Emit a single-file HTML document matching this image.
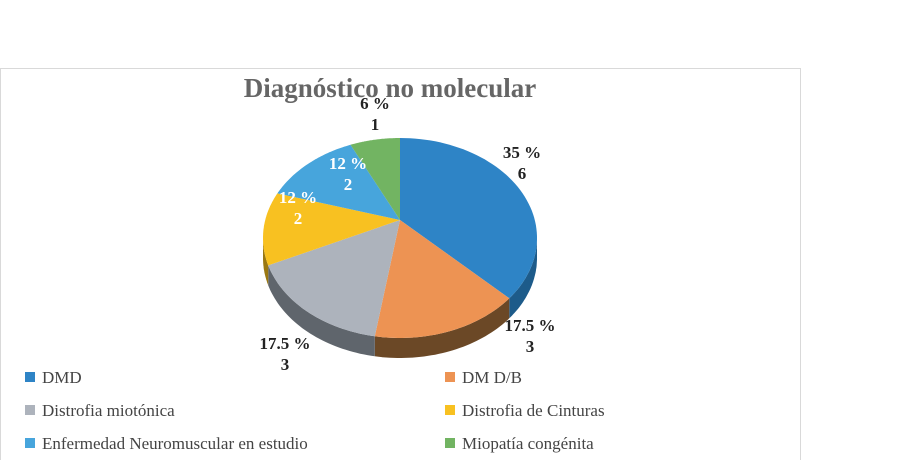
<!DOCTYPE html>
<html><head><meta charset="utf-8"><style>
body{margin:0;background:#fff;width:900px;height:460px;overflow:hidden;font-family:"Liberation Serif",serif}
</style></head><body>
<svg width="900" height="460">
<rect x="0.5" y="68.5" width="800" height="400" fill="#fff" stroke="#d9d9d9"/>
<text x="390" y="97" text-anchor="middle" font-size="27" font-weight="bold" fill="#666">Diagnóstico no molecular</text>
<g id="pie"></g>
<g id="labels" font-size="17" font-weight="bold" text-anchor="middle"></g>
<g id="legend" font-size="17" fill="#444"></g>
</svg>
<script>
const categories=["DMD","DM D/B","Distrofia miotónica","Distrofia de Cinturas","Enfermedad Neuromuscular en estudio","Miopatía congénita"];
const counts=[6,3,3,2,2,1];
const pctLabels=["35 %","17.5 %","17.5 %","12 %","12 %","6 %"];
const colors=["#2e84c6","#ed9353","#adb3bc","#f8c121","#47a5dc","#72b462"];
const sideColors=["#1d5b8a","#6b4826","#5f656c","#9a7812","#2c6f96","#4d7d41"];
const NS="http://www.w3.org/2000/svg";
const cx=400,cy=238,rx=137,ry=100,ax=400,ay=220,depth=20;
const total=counts.reduce((a,b)=>a+b,0);
function pt(t,dy){const r=t*Math.PI/180;return [cx+rx*Math.sin(r),cy-ry*Math.cos(r)+(dy||0)];}
const pie=document.getElementById('pie');
let a=0;const spans=[];
counts.forEach((c,i)=>{const b=a+c/total*360;spans.push([a,b]);a=b;});
spans.forEach(([s,e],i)=>{
 const s2=Math.max(s,90),e2=Math.min(e,270);
 if(e2<=s2)return;
 let d="";const N=40;
 for(let k=0;k<=N;k++){const p=pt(s2+(e2-s2)*k/N);d+=(k?"L":"M")+p[0].toFixed(1)+","+p[1].toFixed(1);}
 for(let k=N;k>=0;k--){const p=pt(s2+(e2-s2)*k/N,depth);d+="L"+p[0].toFixed(1)+","+p[1].toFixed(1);}
 const el=document.createElementNS(NS,"path");el.setAttribute("d",d+"Z");el.setAttribute("fill",sideColors[i]);
 
 
 pie.appendChild(el);
});
spans.forEach(([s,e],i)=>{
 let d="M"+ax+","+ay;const N=60;
 for(let k=0;k<=N;k++){const p=pt(s+(e-s)*k/N);d+="L"+p[0].toFixed(1)+","+p[1].toFixed(1);}
 const el=document.createElementNS(NS,"path");el.setAttribute("d",d+"Z");el.setAttribute("fill",colors[i]);
 
 
 pie.appendChild(el);
});
const labPos=[[522,158],[530,331],[285,349],[298,203],[348,169],[375,109]];
const labColor=["#222","#222","#222","#fff","#fff","#222"];
const lg=document.getElementById('labels');
counts.forEach((c,i)=>{
 [pctLabels[i],String(c)].forEach((t,j)=>{
  const el=document.createElementNS(NS,"text");
  el.setAttribute("x",labPos[i][0]);el.setAttribute("y",labPos[i][1]+j*21);
  el.setAttribute("fill",labColor[i]);el.textContent=t;
  
  
  lg.appendChild(el);
 });
});
const leg=document.getElementById('legend');
categories.forEach((c,i)=>{
 const col=i%2,row=Math.floor(i/2);
 const x=col?445:25,y=378+row*33;
 const g=document.createElementNS(NS,"g");
 
 
 const r=document.createElementNS(NS,"rect");r.setAttribute("x",x);r.setAttribute("y",y-6);r.setAttribute("width",10);r.setAttribute("height",10);r.setAttribute("fill",colors[i]);
 const t=document.createElementNS(NS,"text");t.setAttribute("x",x+17);t.setAttribute("y",y+5);t.textContent=c;
 g.appendChild(r);g.appendChild(t);leg.appendChild(g);
});
</script>
</body></html>
